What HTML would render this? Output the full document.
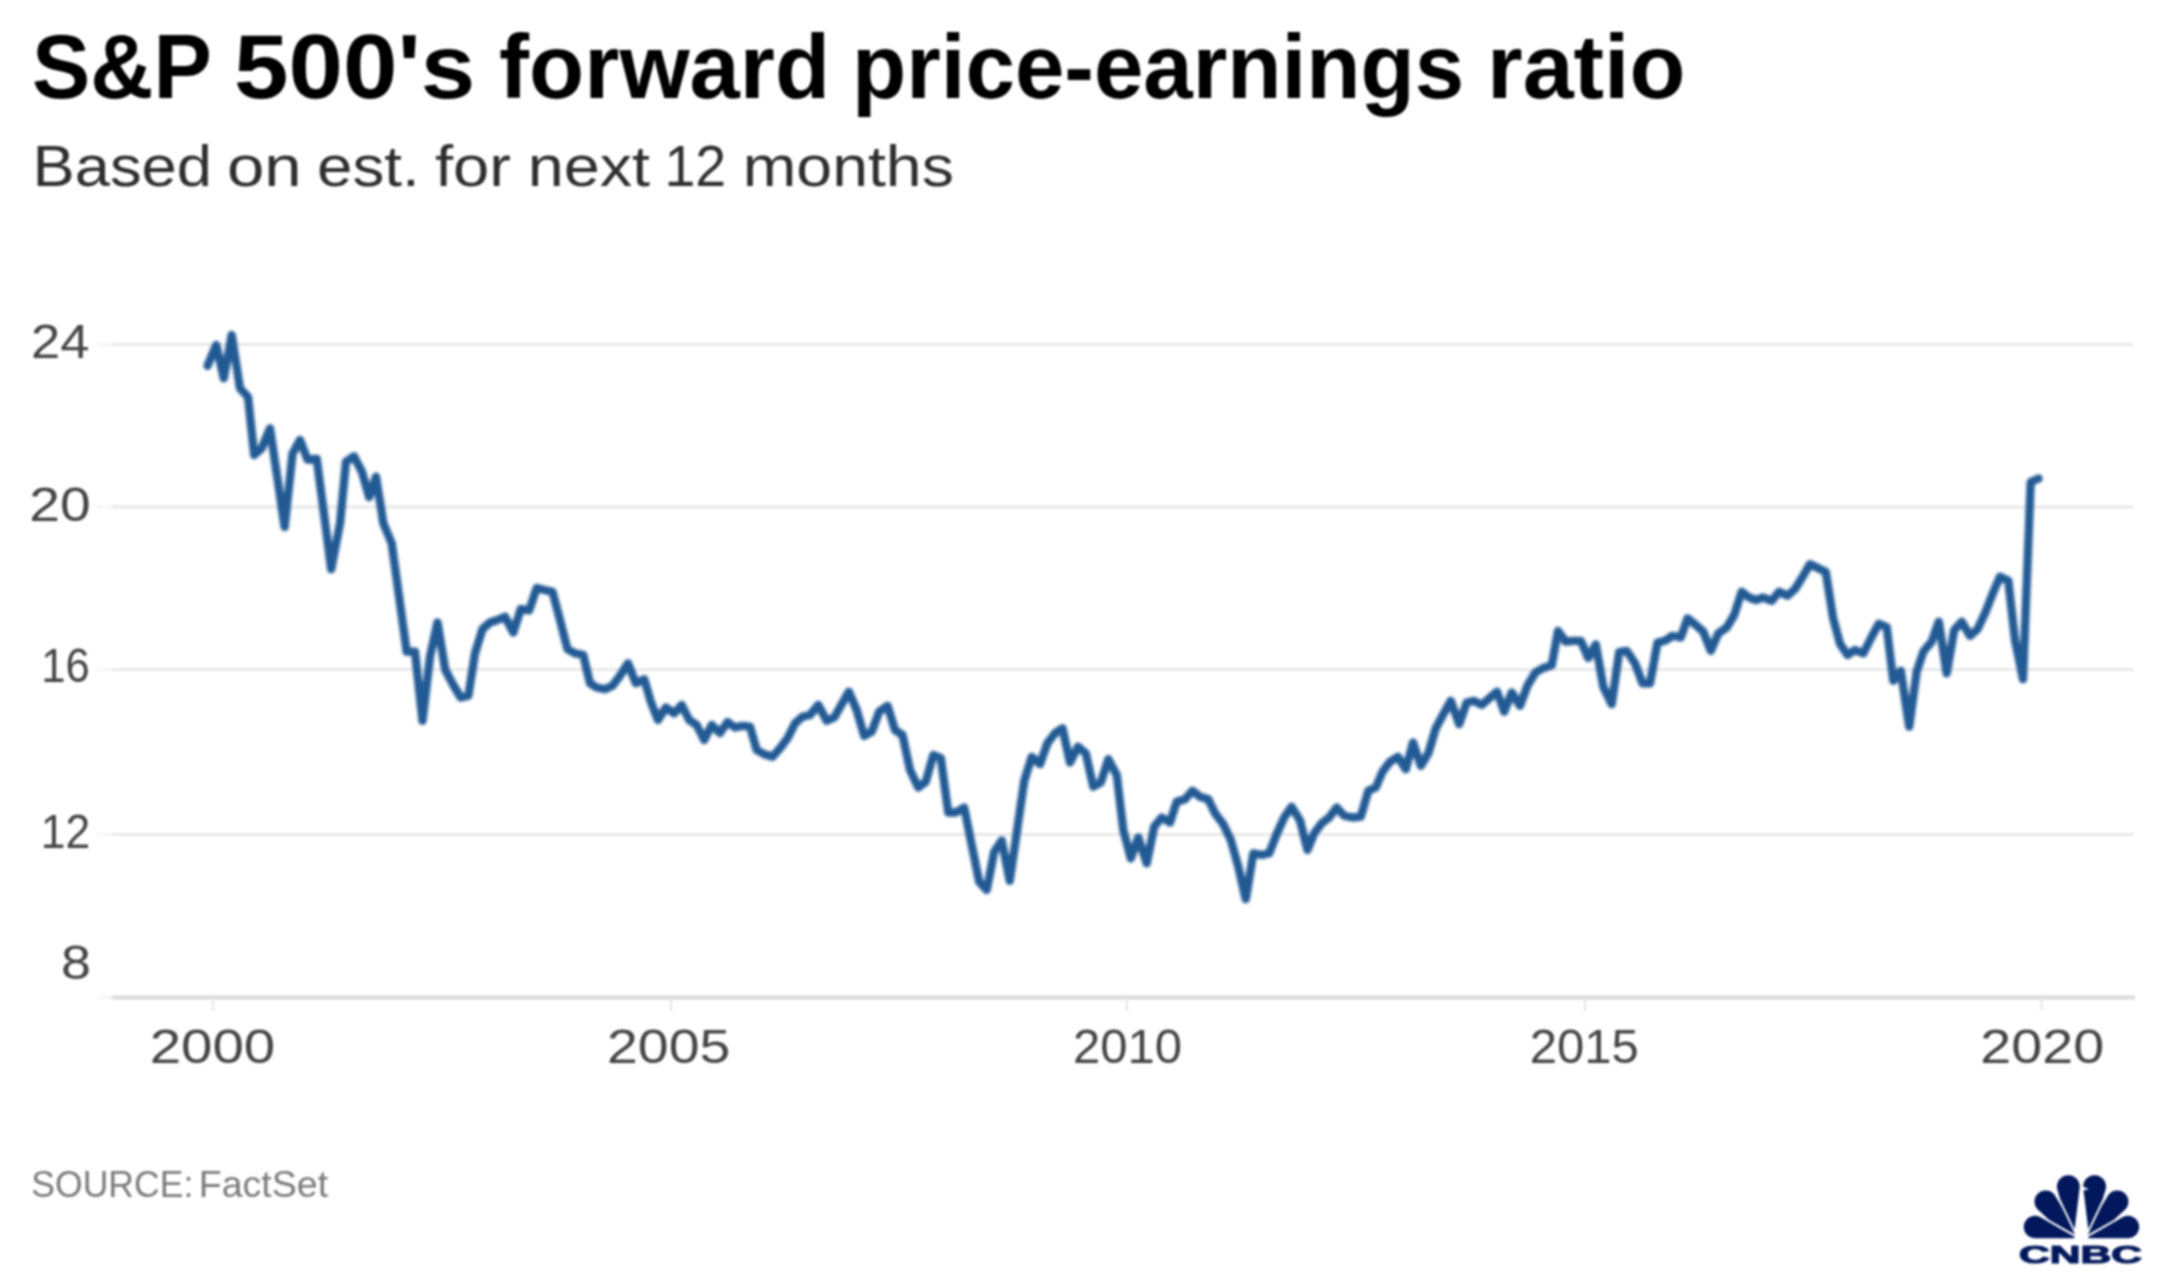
<!DOCTYPE html>
<html lang="en">
<head>
<meta charset="utf-8">
<title>S&amp;P 500's forward price-earnings ratio</title>
<style>
html,body{margin:0;padding:0;background:#fff;}
body{width:2160px;height:1278px;overflow:hidden;font-family:"Liberation Sans",sans-serif;}
svg{display:block;position:absolute;left:0;top:0;filter:blur(1.2px);}
text{font-family:"Liberation Sans",sans-serif;white-space:pre;}
.title{font-weight:700;font-size:90px;fill:#000;}
.sub{font-size:57px;fill:#2e2e2e;}
.ax{font-size:49px;fill:#444;}
.src{font-size:37px;fill:#7a7a7a;}
.grid line{stroke:#eaeaea;stroke-width:3;}
.ext line{stroke:#f6f6f6;stroke-width:3;}
.tick line{stroke:#e6e6e6;stroke-width:2;}
.logo path{fill:#03185c;stroke:#fff;stroke-width:1.7;}
.logo .w{fill:#fff;}
.cnbc{font-weight:700;font-size:24px;fill:#03185c;stroke:#03185c;stroke-width:1.1;stroke-linejoin:round;}
</style>
</head>
<body>
<svg width="2160" height="1278" viewBox="0 0 2160 1278">
<defs><filter id="lb" x="-2%" y="-5%" width="104%" height="110%"><feGaussianBlur stdDeviation="1.3"/></filter></defs>
<rect x="0" y="0" width="2160" height="1278" fill="#ffffff"/>
<text class="title"><tspan x="32.0" y="98" textLength="178.22" lengthAdjust="spacingAndGlyphs">S&amp;P</tspan> <tspan x="234.0" y="98" textLength="241.22" lengthAdjust="spacingAndGlyphs">500's</tspan> <tspan x="499.0" y="98" textLength="331.15" lengthAdjust="spacingAndGlyphs">forward</tspan> <tspan x="852.0" y="98" textLength="612.17" lengthAdjust="spacingAndGlyphs">price-earnings</tspan> <tspan x="1487.0" y="98" textLength="198.45" lengthAdjust="spacingAndGlyphs">ratio</tspan></text>
<text class="sub"><tspan x="32.5" y="186" textLength="179.5" lengthAdjust="spacingAndGlyphs">Based</tspan> <tspan x="227.0" y="186" textLength="74.7" lengthAdjust="spacingAndGlyphs">on</tspan> <tspan x="317.0" y="186" textLength="102.66" lengthAdjust="spacingAndGlyphs">est.</tspan> <tspan x="435.0" y="186" textLength="76.06" lengthAdjust="spacingAndGlyphs">for</tspan> <tspan x="527.7" y="186" textLength="122.35" lengthAdjust="spacingAndGlyphs">next</tspan> <tspan x="664.5" y="186" textLength="61.74" lengthAdjust="spacingAndGlyphs">12</tspan> <tspan x="742.7" y="186" textLength="211.18" lengthAdjust="spacingAndGlyphs">months</tspan></text>
<g class="ext">
<line x1="97" x2="112" y1="344.6" y2="344.6"/>
<line x1="97" x2="112" y1="506.9" y2="506.9"/>
<line x1="97" x2="112" y1="669.4" y2="669.4"/>
<line x1="97" x2="112" y1="834.6" y2="834.6"/>
<line x1="97" x2="112" y1="997.5" y2="997.5"/>
</g>
<g class="grid">
<line x1="112" x2="2133.5" y1="344.6" y2="344.6"/>
<line x1="112" x2="2133.5" y1="506.9" y2="506.9"/>
<line x1="112" x2="2133.5" y1="669.4" y2="669.4"/>
<line x1="112" x2="2133.5" y1="834.6" y2="834.6"/>
</g>
<line x1="112" x2="2135" y1="997.5" y2="997.5" stroke="#dadada" stroke-width="4"/>
<g class="tick">
<line x1="213.2" x2="213.2" y1="998" y2="1011"/>
<line x1="671" x2="671" y1="998" y2="1011"/>
<line x1="1126.8" x2="1126.8" y1="998" y2="1011"/>
<line x1="1585" x2="1585" y1="998" y2="1011"/>
<line x1="2041.6" x2="2041.6" y1="998" y2="1011"/>
</g>
<text class="ax" x="31.0" y="358" textLength="58.48" lengthAdjust="spacingAndGlyphs">24</text>
<text class="ax" x="29.3" y="520.5" textLength="61.4" lengthAdjust="spacingAndGlyphs">20</text>
<text class="ax" x="41.3" y="682" textLength="48.54" lengthAdjust="spacingAndGlyphs">16</text>
<text class="ax" x="40.8" y="847.5" textLength="49.51" lengthAdjust="spacingAndGlyphs">12</text>
<text class="ax" x="61.0" y="978.5" textLength="30.02" lengthAdjust="spacingAndGlyphs">8</text>
<text class="ax" x="149.7" y="1063.3" textLength="125.59" lengthAdjust="spacingAndGlyphs">2000</text>
<text class="ax" x="607.0" y="1063.3" textLength="123.43" lengthAdjust="spacingAndGlyphs">2005</text>
<text class="ax" x="1073.0" y="1063.3" textLength="109.16" lengthAdjust="spacingAndGlyphs">2010</text>
<text class="ax" x="1529.7" y="1063.3" textLength="109.16" lengthAdjust="spacingAndGlyphs">2015</text>
<text class="ax" x="1980.3" y="1063.3" textLength="123.85" lengthAdjust="spacingAndGlyphs">2020</text>
<polyline filter="url(#lb)" fill="none" stroke="#245a94" stroke-width="8.3" stroke-linejoin="round" stroke-linecap="round" points="207.5,365.8 216.2,345 223.8,378.3 231.7,335 240,388.3 248,397 254.2,455 261.7,448.3 270,428.3 277.4,478 284.6,527 292.5,453.8 300,440 307.5,459.5 316.7,458.8 324,514 331.2,569.2 340,523.3 346,461.7 354,456.3 362,472 369.2,497 376,476.7 383.3,523 391.7,543.3 399.2,597.5 406.7,651.7 415,651.7 422.5,720.8 430,656.7 437.5,622.5 445.3,670 453.3,685 460.8,697.5 468.3,695.8 475,653.3 482.5,629 490,622.5 497.5,620 505,616.7 513.3,632.5 520.8,609 529.2,610.4 536.7,588 544.6,590 552.5,591.7 560,620 567.5,649.2 575,653.3 583.3,655 590,683.3 596.7,687.5 605,689.2 612.5,685.8 620,675.8 628,663.3 635.8,683.3 644.2,679.2 650.8,701.7 658,720 665.8,707.5 674.2,713.3 681.7,705 689.2,720 696.7,725 704.2,740 711.7,725 720,733 727.5,722 735,727.5 742.5,725.8 750,726.7 756.7,750 764.2,754.2 772.5,756.7 780,748.3 787.5,738.3 795,723.3 802.5,716.7 810,715 818.3,705 826.7,720.8 834.2,717.5 841.7,704.2 848.8,691.7 856.7,710 864.2,735.8 871.7,731.7 879.2,711.7 887.5,705.8 895,730 902.5,735 910,770 918.3,787.5 925.8,781.7 933.3,755 940.8,758 948.3,812.5 955.8,812.5 964.2,807.5 971.7,845 979.2,881.7 986.7,890 994.2,851.7 1001.7,840.5 1009.7,880.8 1016.7,833 1024.2,781 1031.7,757 1040,764.2 1047.5,743 1055,733.3 1062.5,728.3 1070,762.5 1078,746.7 1085.8,753.3 1093.3,786.7 1100.8,782.5 1108.3,759.2 1116.7,775 1123.3,830 1130.8,858.3 1138.3,837.5 1146.7,863.3 1154.2,826.7 1161.7,817.5 1170,822.5 1176.7,801.7 1185,799.2 1192.5,790.8 1200,796.7 1208.3,799.2 1215,813.3 1223.3,824.2 1230.8,840 1238.3,866.7 1245.8,899.2 1253.3,853.3 1261.7,855 1269.2,853.3 1276.7,834 1284.2,817.5 1291.5,806.7 1300,820.4 1307.5,850 1314.2,833.3 1321.7,823.3 1329.2,817.5 1336.7,807.5 1344.2,815.8 1352.5,817.5 1360.8,816.7 1368.3,790.8 1375.8,787.5 1382.5,771.7 1390,761.7 1398,756.7 1405.8,769.2 1413,742.5 1420.8,765.8 1428.3,753.3 1435.8,728.3 1443.3,714.2 1450.8,700.8 1459.2,724.2 1466.7,702.5 1474.2,700.8 1481.7,705 1489.2,698.3 1497,691.7 1504.2,711.7 1511.7,692.5 1520,705.8 1527.5,685.5 1535.4,672.5 1543.3,668 1551.7,665.4 1558,631 1565.8,641.7 1573.3,640.8 1580.8,640.8 1588.3,658 1595.8,644.5 1603.3,686.7 1611.7,704.2 1619.2,652 1626.7,650.8 1635,663.3 1642.5,683.3 1650,683.3 1657.5,642.5 1665,640.8 1672.5,635.8 1680.8,637.5 1687.5,618.3 1695.8,625 1703.3,631.7 1710.8,650.8 1718.3,633.3 1726.7,627.5 1734.2,615 1741.7,591.7 1749.2,597.5 1755.8,600 1763.3,597.5 1771.7,600.8 1779.2,591.7 1787.5,595.8 1795,589 1802.5,577 1810,564.2 1818.3,568.3 1825.8,572 1833,617.5 1840,643.8 1847.5,655 1855,650 1863.3,653.3 1871.3,637.5 1878.8,623.8 1886.7,627 1893.3,680.8 1900.8,670.8 1909.2,726.7 1916.7,671.7 1923.3,651.7 1931.7,641.7 1938.8,621.7 1946.7,673.3 1954.2,630 1961.7,621.7 1970,635.8 1977.5,629.2 1985,613.3 1992.5,594.2 2000,576.7 2008.3,580.8 2015,640 2023,679.2 2030.7,482 2038.6,478.5"/>
<text class="src"><tspan x="31.3" y="1196.7" textLength="161.96" lengthAdjust="spacingAndGlyphs">SOURCE:</tspan> <tspan x="198.7" y="1196.7" textLength="129.49" lengthAdjust="spacingAndGlyphs">FactSet</tspan></text>
<g class="logo">
<path d="M2022.9,1227.0 L2023.0,1225.6 L2023.2,1224.3 L2023.6,1223.0 L2024.1,1221.7 L2024.8,1220.5 L2025.6,1219.4 L2026.5,1218.4 L2027.5,1217.5 L2028.6,1216.7 L2029.8,1216.1 L2031.0,1215.6 L2032.3,1215.2 L2033.7,1214.9 L2035.0,1214.9 L2036.4,1214.9 L2037.7,1215.2 L2039.0,1215.6 L2040.3,1216.1 L2041.5,1216.7 L2080.4,1239.0 L2035.0,1239.0 L2033.7,1239.0 L2032.3,1238.7 L2031.0,1238.4 L2029.8,1237.8 L2028.6,1237.2 L2027.5,1236.4 L2026.5,1235.5 L2025.6,1234.5 L2024.8,1233.4 L2024.1,1232.2 L2023.6,1230.9 L2023.2,1229.6 L2023.0,1228.3Z"/>
<path d="M2082.5,1239.0 L2121.5,1216.7 L2122.7,1216.1 L2123.9,1215.6 L2125.2,1215.2 L2126.5,1214.9 L2127.9,1214.9 L2129.2,1214.9 L2130.6,1215.2 L2131.9,1215.6 L2133.1,1216.1 L2134.3,1216.7 L2135.4,1217.5 L2136.4,1218.4 L2137.3,1219.4 L2138.1,1220.5 L2138.8,1221.7 L2139.3,1223.0 L2139.7,1224.3 L2139.9,1225.6 L2140.0,1227.0 L2139.9,1228.3 L2139.7,1229.6 L2139.3,1230.9 L2138.8,1232.2 L2138.1,1233.4 L2137.3,1234.5 L2136.4,1235.5 L2135.4,1236.4 L2134.3,1237.2 L2133.1,1237.8 L2131.9,1238.4 L2130.6,1238.7 L2129.2,1239.0 L2127.9,1239.0Z"/>
<path d="M2033.6,1201.6 L2033.7,1200.3 L2033.9,1198.9 L2034.3,1197.6 L2034.8,1196.4 L2035.5,1195.2 L2036.3,1194.1 L2037.2,1193.1 L2038.2,1192.2 L2039.3,1191.4 L2040.5,1190.8 L2041.7,1190.3 L2043.0,1189.9 L2044.3,1189.7 L2045.7,1189.6 L2047.0,1189.7 L2048.3,1189.9 L2049.6,1190.3 L2050.9,1190.8 L2052.1,1191.4 L2053.2,1192.2 L2054.2,1193.1 L2055.1,1194.1 L2055.8,1195.2 L2063.0,1207.1 L2063.5,1208.1 L2077.4,1237.1 L2049.2,1220.9 L2048.2,1220.3 L2047.4,1219.5 L2037.2,1210.1 L2036.3,1209.1 L2035.5,1208.0 L2034.8,1206.8 L2034.3,1205.6 L2033.9,1204.3 L2033.7,1203.0Z"/>
<path d="M2085.5,1237.1 L2099.4,1208.1 L2099.9,1207.1 L2107.1,1195.2 L2107.9,1194.1 L2108.8,1193.1 L2109.8,1192.2 L2110.9,1191.4 L2112.0,1190.8 L2113.3,1190.3 L2114.6,1189.9 L2115.9,1189.7 L2117.3,1189.6 L2118.6,1189.7 L2119.9,1189.9 L2121.2,1190.3 L2122.5,1190.8 L2123.6,1191.4 L2124.7,1192.2 L2125.8,1193.1 L2126.6,1194.1 L2127.4,1195.2 L2128.1,1196.4 L2128.6,1197.6 L2129.0,1198.9 L2129.2,1200.3 L2129.3,1201.6 L2129.2,1203.0 L2129.0,1204.3 L2128.6,1205.6 L2128.1,1206.8 L2127.4,1208.0 L2126.6,1209.1 L2125.8,1210.1 L2115.5,1219.5 L2114.7,1220.3 L2113.8,1220.9Z"/>
<path d="M2056.1,1186.6 L2056.1,1185.2 L2056.4,1183.9 L2056.7,1182.5 L2057.3,1181.3 L2057.9,1180.1 L2058.7,1178.9 L2059.6,1177.9 L2060.7,1177.0 L2061.8,1176.2 L2063.0,1175.5 L2064.3,1175.0 L2065.6,1174.6 L2066.9,1174.4 L2068.3,1174.3 L2069.7,1174.4 L2071.0,1174.6 L2072.4,1175.0 L2073.6,1175.5 L2074.8,1176.2 L2076.0,1177.0 L2077.0,1177.9 L2077.9,1178.9 L2078.7,1180.1 L2079.4,1181.3 L2079.9,1182.5 L2080.3,1183.9 L2080.5,1185.2 L2080.6,1186.6 L2080.5,1188.0 L2075.1,1232.3 L2059.7,1200.2 L2059.3,1199.2 L2056.7,1190.6 L2056.4,1189.3 L2056.1,1188.0Z"/>
<path d="M2082.3,1186.6 L2082.4,1185.2 L2082.6,1183.9 L2083.0,1182.5 L2083.5,1181.3 L2084.2,1180.1 L2085.0,1178.9 L2085.9,1177.9 L2087.0,1177.0 L2088.1,1176.2 L2089.3,1175.5 L2090.6,1175.0 L2091.9,1174.6 L2093.2,1174.4 L2094.6,1174.3 L2096.0,1174.4 L2097.3,1174.6 L2098.6,1175.0 L2099.9,1175.5 L2101.1,1176.2 L2102.2,1177.0 L2103.3,1177.9 L2104.2,1178.9 L2105.0,1180.1 L2105.7,1181.3 L2106.2,1182.5 L2106.6,1183.9 L2106.8,1185.2 L2106.9,1186.6 L2106.8,1188.0 L2106.6,1189.3 L2106.2,1190.6 L2103.6,1199.2 L2103.2,1200.2 L2087.8,1232.3 L2082.4,1188.0Z"/>
<polygon class="w" points="2081.46,1210.06 2089.28,1241.03 2073.64,1241.03"/>
<polygon class="w" points="2082.46,1186.28 2088.84,1189.28 2082.58,1190.53"/>
</g>
<text class="cnbc" x="2019.1" y="1263" textLength="122.91" lengthAdjust="spacingAndGlyphs">CNBC</text>
</svg>
</body>
</html>
